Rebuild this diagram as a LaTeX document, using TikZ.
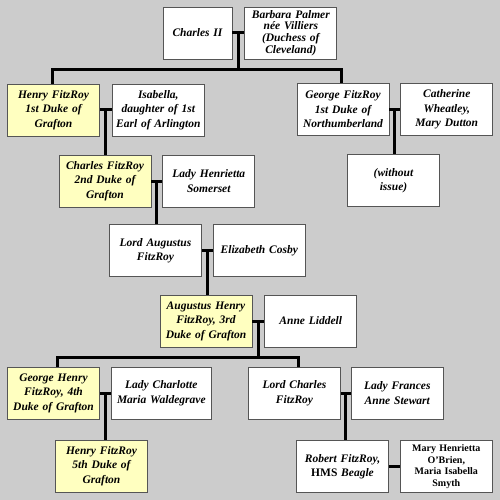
\documentclass[tikz,border=0pt]{standalone}
\usepackage{fontspec}
\setmainfont{Liberation Serif}
\usetikzlibrary{positioning,calc}
\definecolor{bggrey}{HTML}{CCCCCC}
\definecolor{dukebox}{HTML}{FFFFC0}
\definecolor{rimline}{HTML}{555555}
\tikzset{
  personbox/.style={
    rectangle, draw=rimline, line width=0.8pt, fill=#1,
    minimum width=92pt, minimum height=52pt, text width=90pt,
    inner sep=0pt, align=center,
    font=\fontsize{11.5}{14.5}\selectfont\bfseries\itshape
  },
  personbox/.default=white,
  tieline/.style={line width=3pt, black}
}
\begin{document}
\begin{tikzpicture}[x=1pt, y=-1pt, node distance=11pt]
\fill[bggrey] (0,0) rectangle (500,500);
\useasboundingbox (0,0) rectangle (500,500);

% generation 0
\node[personbox, minimum width=69pt, text width=67pt] (charles2) at (197.5,33) {Charles II};
\node[personbox, right=12pt of charles2, font=\fontsize{11.5}{11.8}\selectfont\bfseries\itshape] (barbara)
  {Barbara Palmer\\ née Villiers\\ (Duchess of\\ Cleveland)};

% generation 1
\node[personbox=dukebox] (henry1) at (53.5,110) {Henry FitzRoy\\ 1st Duke of\\ Grafton};
\node[personbox, right=12pt of henry1] (isabella) {Isabella,\\ daughter of 1st\\ Earl of Arlington};
\node[personbox] (george1) at (343,109.5) {George FitzRoy\\ 1st Duke of\\ Northumberland};
\node[personbox, right=of george1] (catherine) {Catherine\\ Wheatley,\\ Mary Dutton};

% generation 2
\node[personbox=dukebox] (charles2nd) at (105,181) {Charles FitzRoy\\ 2nd Duke of\\ Grafton};
\node[personbox, right=of charles2nd] (henrietta) {Lady Henrietta\\ Somerset};
\node[personbox] (noissue) at (393.5,180.5) {(without\\ issue)};

% generation 3
\node[personbox] (augustus) at (155.5,250.5) {Lord Augustus\\ FitzRoy};
\node[personbox, right=of augustus] (cosby) {Elizabeth Cosby};

% generation 4
\node[personbox=dukebox] (augustush) at (206,321) {Augustus Henry\\ FitzRoy, 3rd\\ Duke of Grafton};
\node[personbox, right=12pt of augustush] (liddell) {Anne Liddell};

% generation 5
\node[personbox=dukebox] (georgeh) at (53.5,393) {George Henry\\ FitzRoy, 4th\\ Duke of Grafton};
\node[personbox, right=of georgeh, minimum width=100pt, text width=98pt] (charlotte) {Lady Charlotte\\ Maria Waldegrave};
\node[personbox] (lordcharles) at (294.5,393) {Lord Charles\\ FitzRoy};
\node[personbox, right=10pt of lordcharles] (frances) {Lady Frances\\ Anne Stewart};

% generation 6
\node[personbox=dukebox] (henry5) at (101.5,466) {Henry FitzRoy\\ 5th Duke of\\ Grafton};
\node[personbox] (robert) at (342.5,466.5) {Robert FitzRoy,\\ {\upshape HMS} \textit{Beagle}};
\node[personbox, right=of robert, font=\fontsize{10}{11.5}\selectfont\bfseries] (mary)
  {Mary Henrietta\\ O'Brien,\\ Maria Isabella\\ Smyth};

% marriages and descent
\draw[tieline] (charles2) -- (barbara);
\coordinate (w0) at ($(charles2.east)!0.5!(barbara.west)$);
\draw[tieline] (w0) -- ++(0,37) coordinate (k0);
\draw[tieline] ([xshift=-1.5pt]henry1.north) |- (k0) -| ([xshift=-2pt]george1.north);

\draw[tieline] (henry1) -- (isabella);
\coordinate (w1) at ($(henry1.east)!0.5!(isabella.west)$);
\draw[tieline] (w1) -- (w1 |- charles2nd.north);

\draw[tieline] (george1) -- (catherine);
\coordinate (w2) at ($(george1.east)!0.5!(catherine.west)$);
\draw[tieline] (w2) -- (w2 |- noissue.north);

\draw[tieline] (charles2nd) -- (henrietta);
\coordinate (w3) at ($(charles2nd.east)!0.5!(henrietta.west)$);
\draw[tieline] (w3) -- (w3 |- augustus.north);

\draw[tieline] (augustus) -- (cosby);
\coordinate (w4) at ($(augustus.east)!0.5!(cosby.west)$);
\draw[tieline] (w4) -- (w4 |- augustush.north);

\draw[tieline] (augustush) -- (liddell);
\coordinate (w5) at ($(augustush.east)!0.5!(liddell.west)$);
\draw[tieline] (w5) -- ++(0,36) coordinate (k5);
\draw[tieline] ([xshift=3.5pt]georgeh.north) |- (k5) -| ([xshift=3.5pt]lordcharles.north);

\draw[tieline] (georgeh) -- (charlotte);
\coordinate (w6) at ($(georgeh.east)!0.5!(charlotte.west)$);
\draw[tieline] (w6) -- (w6 |- henry5.north);

\draw[tieline] (lordcharles) -- (frances);
\coordinate (w7) at ($(lordcharles.east)!0.5!(frances.west)$);
\draw[tieline] (w7) -- (w7 |- robert.north);

\draw[tieline] (robert) -- (mary);
\end{tikzpicture}
\end{document}
